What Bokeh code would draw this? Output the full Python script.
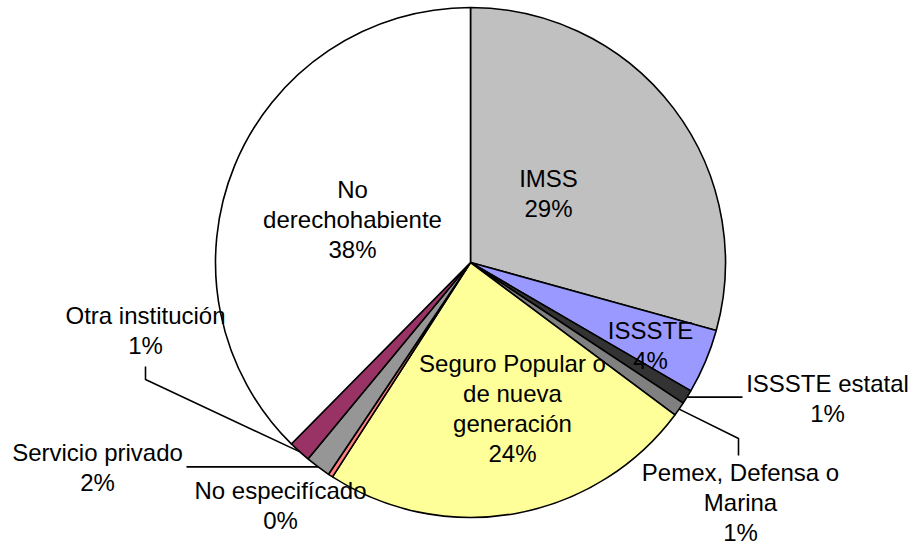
import math
from bokeh.plotting import figure
from bokeh.models import Range1d, ColumnDataSource
from bokeh.core.properties import value
from bokeh.embed import file_html
from bokeh.resources import INLINE

# ---- data ----
categories = ["IMSS", "ISSSTE", "ISSSTE estatal", "Pemex, Defensa o\nMarina",
              "Seguro Popular o\nde nueva\ngeneración", "No especifícado",
              "Servicio privado", "Otra institución", "No\nderechohabiente"]
shares = [29.3, 4.1, 0.9, 0.9, 23.9, 0.3, 1.6, 1.4, 37.6]
colors = ["#C0C0C0", "#9999FF", "#333333", "#808080", "#FFFF99", "#FF8080",
          "#969696", "#993366", "#FFFFFF"]

# ---- layout (reference pixel coordinates, y measured from top) ----
W, H = 910, 546
CX, CY, R = 470, 262, 255
label_xy = [(548, 193), (650, 345), (827, 398), (740, 502), (512, 408),
            (280, 505), (97, 467), (145, 330), (352, 219)]
LINE_H = 30
FONT = "Liberation Sans"
FSIZE = "24px"

def fy(y):
    return H - y

p = figure(width=W, height=H, output_backend="svg", toolbar_location=None,
           x_range=Range1d(0, W), y_range=Range1d(0, H),
           min_border=0, background_fill_color="white", border_fill_color="white")
p.axis.visible = False
p.grid.visible = False
p.outline_line_color = None

total = sum(shares)
starts, ends, mids = [], [], []
cum = 0.0
for s in shares:
    a0 = cum / total
    cum += s
    a1 = cum / total
    starts.append(math.pi / 2 - 2 * math.pi * a0)
    ends.append(math.pi / 2 - 2 * math.pi * a1)
    mids.append((a0 + a1) / 2)

src = ColumnDataSource(dict(x=[CX] * len(shares), y=[fy(CY)] * len(shares),
                            start=starts, end=ends, color=colors))
p.wedge(x="x", y="y", radius=R, start_angle="start", end_angle="end",
        direction="clock", fill_color="color", line_color="black",
        line_width=1.6, source=src)

def attach(i):
    ang = 2 * math.pi * mids[i]
    return CX + R * math.sin(ang), CY - R * math.cos(ang)

# leader lines
leaders = {
    2: [(742, None)],
    3: [(738, 438), (738, 455)],
    6: [(186, None)],
    7: [(145, 379), (145, 366)],
}
for i, pts in leaders.items():
    ax, ay = attach(i)
    xs, ys = [ax], [ay]
    for (x, y) in pts:
        xs.append(x)
        ys.append(ay if y is None else y)
    p.line(xs, [fy(v) for v in ys], line_color="black", line_width=1.6)

# labels
tx, ty, tt = [], [], []
for i, name in enumerate(categories):
    pct = f"{round(shares[i] / total * 100)}%"
    lines = name.split("\n") + [pct]
    x0, yc = label_xy[i]
    n = len(lines)
    for k, ln in enumerate(lines):
        tx.append(x0)
        ty.append(fy(yc + (k - (n - 1) / 2) * LINE_H))
        tt.append(ln)
p.text(x=tx, y=ty, text=tt, text_align="center", text_baseline="middle",
       text_font=value(FONT), text_font_size=FSIZE, text_color="black")

open("out.html", "w").write(file_html(p, INLINE))
